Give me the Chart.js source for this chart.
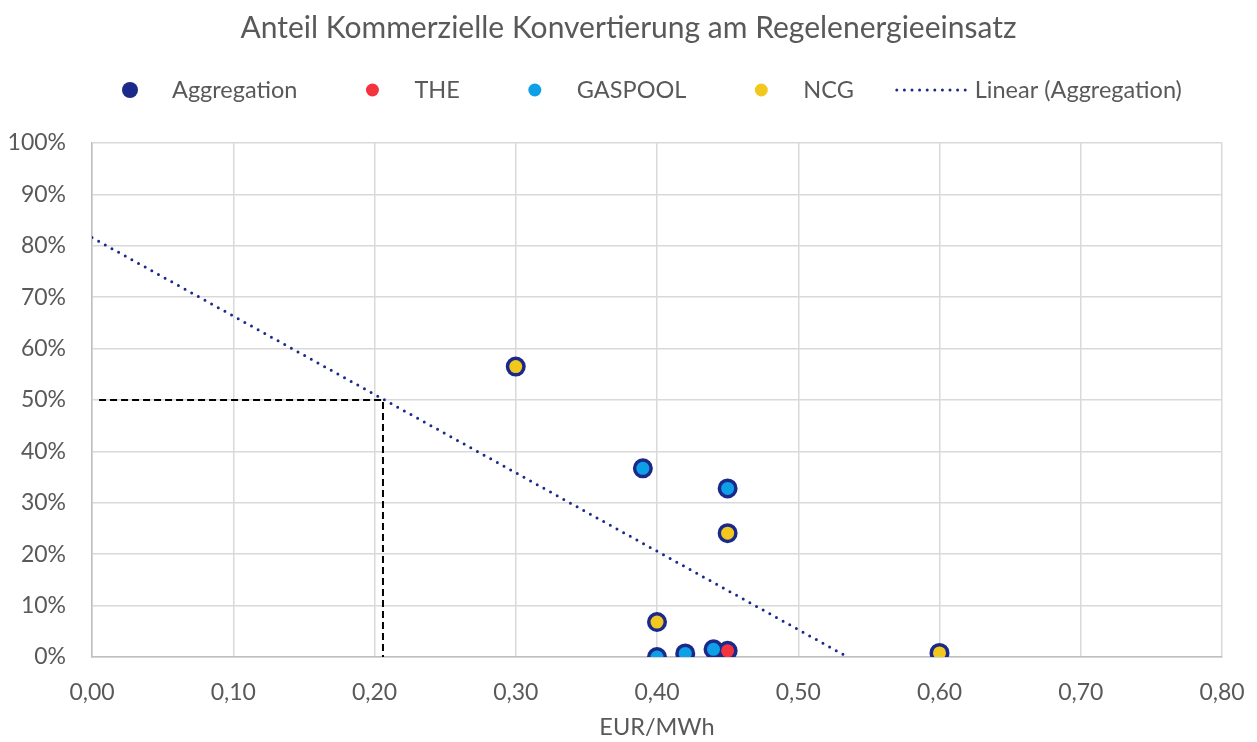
<!DOCTYPE html>
<html>
<head>
<meta charset="utf-8">
<script src="https://cdn.jsdelivr.net/npm/chart.js@4/dist/chart.umd.min.js"></script>
<style>
  html, body { margin: 0; padding: 0; background: #ffffff; }
  #c { display: block; }
</style>
</head>
<body>
<canvas id="c" width="1257" height="742"></canvas>
<script>
// ---- data ----
const chartTitle = 'Anteil Kommerzielle Konvertierung am Regelenergieeinsatz';
const xAxisTitle = 'EUR/MWh';
const seriesNames = ['Aggregation', 'THE', 'GASPOOL', 'NCG', 'Linear (Aggregation)'];

const theX = [0.45];
const theY = [1.2];

const gaspoolX = [0.39, 0.45, 0.40, 0.42, 0.44];
const gaspoolY = [36.7, 32.8, 0.0, 0.7, 1.5];

const ncgX = [0.30, 0.45, 0.40, 0.60];
const ncgY = [56.5, 24.1, 6.8, 0.8];

// trendline endpoints (as drawn in the reference)
const trendX = [0.0, 0.535];
const trendY = [81.6, 0.0];

// dashed black guide lines (50 % crossing)
const guideX = [0.005, 0.206, 0.206];
const guideY = [50, 50, 0];

const xTicksMin = 0, xTicksMax = 0.8, xStep = 0.1;
const yTicksMin = 0, yTicksMax = 100, yStep = 10;

// ---- helpers ----
const pts = (xs, ys) => xs.map((x, i) => ({ x: x, y: ys[i] }));
const aggX = [].concat(theX, gaspoolX, ncgX);
const aggY = [].concat(theY, gaspoolY, ncgY);

const NAVY = '#1B2A8A';
const RED = '#F4333F';
const BLUE = '#0DA0E6';
const YELLOW = '#F2C81E';
const TEXT = '#595959';
const FONT = 'Lato, "Open Sans", "DejaVu Sans", sans-serif';

const legendPlugin = {
  id: 'excelLegend',
  afterDraw(chart) {
    const ctx = chart.ctx;
    const cy = 90;
    ctx.save();
    ctx.font = '23.5px ' + FONT;
    ctx.fillStyle = TEXT;
    ctx.textBaseline = 'middle';
    ctx.textAlign = 'left';
    const items = [
      { label: seriesNames[0], type: 'circle', color: NAVY, r: 8 },
      { label: seriesNames[1], type: 'circle', color: RED, r: 6.5 },
      { label: seriesNames[2], type: 'circle', color: BLUE, r: 6.5 },
      { label: seriesNames[3], type: 'circle', color: YELLOW, r: 6.5 },
      { label: seriesNames[4], type: 'line', color: NAVY }
    ];
    let center = 130;
    let prevEnd = null;
    items.forEach((it) => {
      if (it.type === 'circle') {
        if (prevEnd !== null) center = prevEnd + 75;
        ctx.beginPath();
        ctx.fillStyle = it.color;
        ctx.arc(center, cy, it.r, 0, Math.PI * 2);
        ctx.fill();
        ctx.fillStyle = TEXT;
        const tx = center + 42;
        ctx.fillText(it.label, tx, cy);
        prevEnd = tx + ctx.measureText(it.label).width;
      } else {
        const x0 = prevEnd + 43, x1 = x0 + 70;
        ctx.beginPath();
        ctx.strokeStyle = it.color;
        ctx.lineWidth = 3;
        ctx.lineCap = 'round';
        ctx.setLineDash([0, 7.6]);
        ctx.moveTo(x0, cy);
        ctx.lineTo(x1, cy);
        ctx.stroke();
        ctx.setLineDash([]);
        ctx.fillStyle = TEXT;
        ctx.fillText(it.label, x1 + 8, cy);
      }
    });
    ctx.restore();
  }
};

new Chart(document.getElementById('c'), {
  type: 'scatter',
  data: {
    datasets: [
      { label: seriesNames[1], data: pts(theX, theY), order: 0,
        pointRadius: 6.5, pointHoverRadius: 6.5, pointBorderWidth: 0,
        pointBackgroundColor: RED, pointBorderColor: RED },
      { label: seriesNames[2], data: pts(gaspoolX, gaspoolY), order: 0,
        pointRadius: 6.5, pointHoverRadius: 6.5, pointBorderWidth: 0,
        pointBackgroundColor: BLUE, pointBorderColor: BLUE },
      { label: seriesNames[3], data: pts(ncgX, ncgY), order: 0,
        pointRadius: 6.5, pointHoverRadius: 6.5, pointBorderWidth: 0,
        pointBackgroundColor: YELLOW, pointBorderColor: YELLOW },
      { label: seriesNames[0], data: pts(aggX, aggY), order: 1,
        pointRadius: 9, pointHoverRadius: 9, pointBorderWidth: 2,
        pointBackgroundColor: NAVY, pointBorderColor: NAVY },
      { label: seriesNames[4], data: pts(trendX, trendY), order: 2,
        showLine: true, pointRadius: 0, borderColor: NAVY, borderWidth: 3,
        borderDash: [0, 7.6], borderCapStyle: 'round', fill: false, tension: 0 },
      { label: 'guide', data: pts(guideX, guideY), order: 3,
        showLine: true, pointRadius: 0, borderColor: '#000000', borderWidth: 2,
        borderDash: [7, 4], fill: false, tension: 0 }
    ]
  },
  options: {
    responsive: false,
    animation: false,
    devicePixelRatio: 1,
    layout: { padding: { top: 0, right: 0, bottom: 0, left: 0 } },
    plugins: {
      legend: { display: false },
      tooltip: { enabled: false },
      title: {
        display: true,
        text: chartTitle,
        color: TEXT,
        font: { family: FONT, size: 30, weight: 'normal' },
        padding: { top: 10, bottom: 97 }
      }
    },
    scales: {
      x: {
        type: 'linear',
        min: xTicksMin, max: xTicksMax,
        afterFit(s) { s.height = 85; s.paddingLeft = 0; s.paddingRight = 35; },
        ticks: {
          stepSize: xStep,
          color: TEXT,
          padding: 22,
          font: { family: FONT, size: 23 },
          callback: (v) => Number(v).toFixed(2).replace('.', ',')
        },
        grid: { color: '#D9D9D9', lineWidth: 1.5, drawTicks: false },
        border: { color: '#BFBFBF', width: 1.5 },
        title: {
          display: true, text: xAxisTitle, color: TEXT,
          font: { family: FONT, size: 23.5 },
          padding: { top: 0, bottom: 0 }
        }
      },
      y: {
        type: 'linear',
        min: yTicksMin, max: yTicksMax,
        afterFit(s) { s.width = 92; s.paddingTop = 0; s.paddingBottom = 0; },
        ticks: {
          stepSize: yStep,
          color: TEXT,
          padding: 26,
          font: { family: FONT, size: 23 },
          callback: (v) => v + '%'
        },
        grid: { color: '#D9D9D9', lineWidth: 1.5, drawTicks: false },
        border: { color: '#BFBFBF', width: 1.5 }
      }
    }
  },
  plugins: [legendPlugin]
});
</script>
</body>
</html>
